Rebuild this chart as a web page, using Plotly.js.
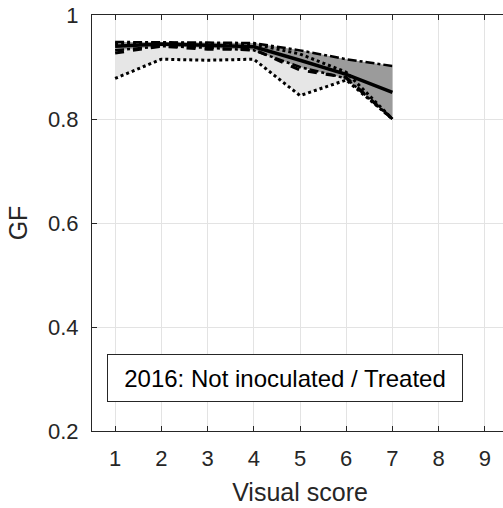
<!DOCTYPE html>
<html>
<head>
<meta charset="utf-8">
<script src="https://cdn.plot.ly/plotly-3.0.1.min.js"></script>
<style>
html,body{margin:0;padding:0;overflow:hidden;background:#fff;}
#chart{width:510px;height:508px;}
</style>
</head>
<body>
<div id="chart"></div>
<script>
// Data
var scores = [1, 2, 3, 4, 5, 6, 7];
var meanSolid  = [0.940, 0.944, 0.942, 0.939, 0.913, 0.886, 0.851];
var upperSolid = [0.948, 0.948, 0.947, 0.946, 0.932, 0.915, 0.902];
var lowerSolid = [0.932, 0.940, 0.937, 0.932, 0.900, 0.878, 0.800];
var meanDashed  = [0.927, 0.940, 0.934, 0.934, 0.894, 0.880, 0.800];
var upperDashed = [0.945, 0.946, 0.945, 0.944, 0.925, 0.890, 0.800];
var lowerDashed = [0.878, 0.915, 0.913, 0.915, 0.845, 0.875, 0.800];
var xTicks = [1, 2, 3, 4, 5, 6, 7, 8, 9];
var yTicks = [0.2, 0.4, 0.6, 0.8, 1];
var yTickText = ['0.2', '0.4', '0.6', '0.8', '1'];
var labelText = '2016: Not inoculated / Treated';

var ink = '#262626';
var traces = [
  {x: scores, y: upperDashed, mode: 'lines', line: {width: 0, color: 'rgba(0,0,0,0)'}, hoverinfo: 'skip', showlegend: false},
  {x: scores, y: lowerDashed, mode: 'lines', fill: 'tonexty', fillcolor: '#e6e6e6', line: {width: 0, color: 'rgba(0,0,0,0)'}, hoverinfo: 'skip', showlegend: false},
  {x: scores, y: lowerSolid, mode: 'lines', line: {width: 0, color: 'rgba(0,0,0,0)'}, hoverinfo: 'skip', showlegend: false},
  {x: scores, y: upperSolid, mode: 'lines', fill: 'tonexty', fillcolor: '#9b9b9b', line: {width: 0, color: 'rgba(0,0,0,0)'}, hoverinfo: 'skip', showlegend: false},
  {x: scores, y: lowerDashed, mode: 'lines', line: {color: '#000', width: 3, dash: 'dot'}, showlegend: false},
  {x: scores, y: upperDashed, mode: 'lines', line: {color: '#000', width: 3, dash: 'dot'}, showlegend: false},
  {x: scores, y: upperSolid, mode: 'lines', line: {color: '#000', width: 2.5, dash: 'dashdot'}, showlegend: false},
  {x: scores, y: lowerSolid, mode: 'lines', line: {color: '#000', width: 2.5, dash: 'dashdot'}, showlegend: false},
  {x: scores, y: meanDashed, mode: 'lines', line: {color: '#000', width: 3, dash: 'dash'}, showlegend: false},
  {x: scores, y: meanSolid, mode: 'lines', line: {color: '#000', width: 3.5}, showlegend: false}
];

var fontFam = 'Liberation Sans, Arial, Helvetica, sans-serif';
var layout = {
  width: 510, height: 508,
  margin: {l: 92, r: 2, t: 15, b: 77},
  paper_bgcolor: '#fff', plot_bgcolor: '#fff',
  font: {family: fontFam, color: ink},
  xaxis: {
    range: [0.5, 9.5], tickvals: xTicks, ticktext: xTicks.map(String),
    showgrid: true, gridcolor: '#e3e3e3', gridwidth: 1, zeroline: false,
    showline: true, linecolor: ink, linewidth: 1, mirror: 'ticks',
    ticks: 'inside', ticklen: 5, tickcolor: ink,
    tickfont: {size: 22, color: ink}, ticklabelstandoff: 8,
    title: {text: 'Visual score', font: {size: 25, color: ink}, standoff: 13}
  },
  yaxis: {
    range: [0.2, 1], tickvals: yTicks, ticktext: yTickText,
    showgrid: true, gridcolor: '#e3e3e3', gridwidth: 1, zeroline: false,
    showline: true, linecolor: ink, linewidth: 1, mirror: 'ticks',
    ticks: 'inside', ticklen: 5, tickcolor: ink,
    tickfont: {size: 22, color: ink}, ticklabelstandoff: 8,
    title: {text: 'GF', font: {size: 25, color: ink}, standoff: 13}
  },
  annotations: [{
    xref: 'paper', yref: 'paper', x: 0.464, y: 0.127,
    xanchor: 'center', yanchor: 'middle', showarrow: false,
    text: labelText, font: {size: 24, color: '#000', family: fontFam},
    width: 338, height: 30, align: 'center', valign: 'middle',
    bgcolor: '#fff', bordercolor: ink, borderwidth: 1, borderpad: 8
  }]
};
Plotly.newPlot('chart', traces, layout, {displayModeBar: false, staticPlot: true});
</script>
</body>
</html>
